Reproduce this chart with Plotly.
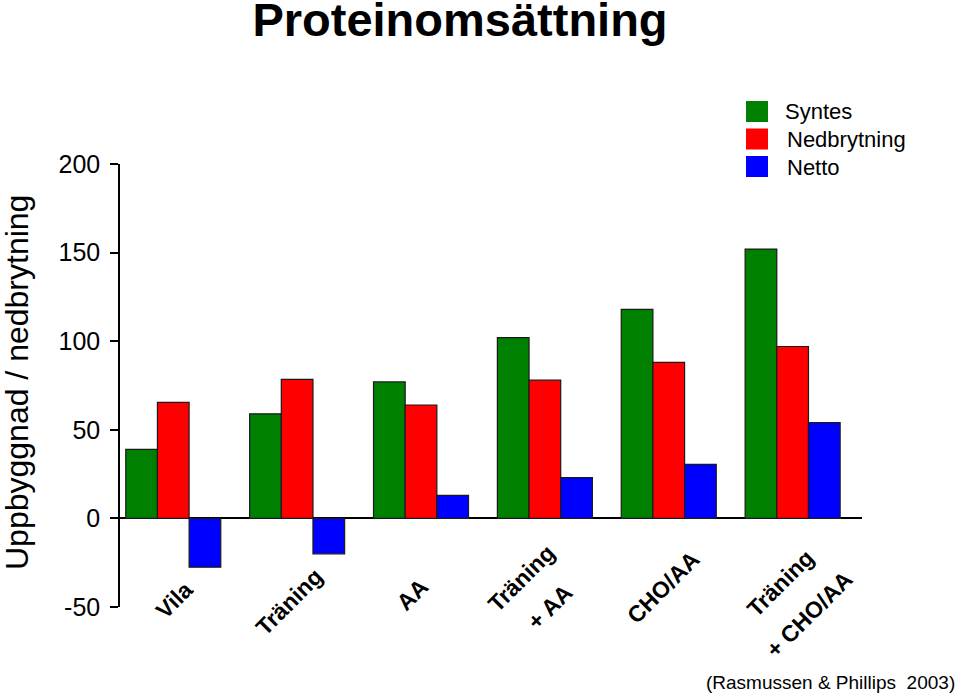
import plotly.graph_objects as go

# ---- data ----
categories = ["Vila", "Träning", "AA", "Träning + AA", "CHO/AA", "Träning + CHO/AA"]
label_lines = [["Vila"], ["Träning"], ["AA"], ["Träning", "+ AA"], ["CHO/AA"], ["Träning", "+ CHO/AA"]]
series_names = ["Syntes", "Nedbrytning", "Netto"]
syntes = [39, 59, 77, 102, 118, 152]
nedbrytning = [65.5, 78.5, 64, 78, 88, 97]
netto = [-27.5, -20, 13, 23, 30.5, 54]
y_ticks = [-50, 0, 50, 100, 150, 200]
y_tick_text = ["-50", "0", "50", "100", "150", "200"]
title_text = "Proteinomsättning"
y_title = "Uppbyggnad / nedbrytning"
source_text = "(Rasmussen & Phillips\u00a0 2003)"

# ---- style ----
colors = ["#008000", "#FF0000", "#0000FF"]
FONT = "Liberation Sans, Arial, Helvetica, sans-serif"
W, H = 960, 695
L, R, T, B = 120, 98, 164, 88
PW, PH = W - L - R, H - T - B


def px_x(px):
    return (px - L) / PW


def px_y(py):
    return (H - B - py) / PH


fig = go.Figure()
for name, vals, col in zip(series_names, [syntes, nedbrytning, netto], colors):
    fig.add_trace(go.Bar(
        x=categories, y=vals, name=name,
        marker=dict(color=col, line=dict(color="#1a1a1a", width=1.2)),
        showlegend=False,
    ))

annotations = []
# rotated category labels (pixel shifts per line)
label_shifts = [
    [(1, -11)],
    [(-8, -13)],
    [(-9, -6)],
    [(-23, 11), (5, -18)],
    [(-5, 2)],
    [(-12, 6), (17, -25)],
]
for cat, lines, shifts in zip(categories, label_lines, label_shifts):
    for text, (dx, dy) in zip(lines, shifts):
        annotations.append(dict(
            x=cat, y=-40, xref="x", yref="y", text=text, showarrow=False,
            textangle=-45, xanchor="center", yanchor="middle",
            xshift=dx, yshift=dy,
            font=dict(family=FONT, size=23, color="black", weight="bold"),
        ))

# y-axis title
annotations.append(dict(
    x=px_x(17), y=px_y(383), xref="paper", yref="paper", text=y_title,
    showarrow=False, textangle=-90, xanchor="center", yanchor="middle",
    font=dict(family=FONT, size=32, color="black"),
))

# source
annotations.append(dict(
    x=px_x(830), y=px_y(682), xref="paper", yref="paper", text=source_text,
    showarrow=False, xanchor="center", yanchor="middle",
    font=dict(family=FONT, size=19, color="black"),
))

# manual legend
shapes = []
for i, (name, col) in enumerate(zip(series_names, colors)):
    top = 101 + 27.5 * i
    shapes.append(dict(
        type="rect", xref="paper", yref="paper",
        x0=px_x(746), x1=px_x(768), y0=px_y(top + 21), y1=px_y(top),
        fillcolor=col, line=dict(width=0),
    ))
    annotations.append(dict(
        x=px_x(783 if i == 0 else 785), y=px_y(top + 11), xref="paper", yref="paper",
        text=name, showarrow=False, xanchor="left", yanchor="middle",
        font=dict(family=FONT, size=22, color="black"),
    ))

fig.update_layout(
    width=W, height=H,
    margin=dict(l=L, r=R, t=T, b=B, pad=0),
    paper_bgcolor="white", plot_bgcolor="white",
    barmode="group", bargap=0.233, bargroupgap=0,
    title=dict(
        text=title_text, x=460 / W, y=1 - 20 / H, xref="container", yref="container",
        xanchor="center", yanchor="middle",
        font=dict(family=FONT, size=47, color="black", weight="bold"),
    ),
    xaxis=dict(
        type="category", range=[-0.43, 5.56], visible=False,
        showgrid=False, zeroline=False,
    ),
    yaxis=dict(
        range=[-50, 200], tickvals=y_ticks, ticktext=y_tick_text,
        ticks="outside", ticklen=8,
        tickwidth=1.5, tickcolor="black", showline=True, linecolor="black",
        linewidth=1.5, showgrid=False, zeroline=True, zerolinecolor="black",
        zerolinewidth=1.5, ticklabelstandoff=5,
        tickfont=dict(family=FONT, size=25, color="black"),
    ),
    yaxis2=dict(
        overlaying="y", side="left", anchor="x", range=[-50, 200],
        tickvals=y_ticks, ticks="inside", ticklen=8, tickwidth=1.5,
        tickcolor="black", showticklabels=False, showgrid=False,
        zeroline=False, showline=False,
    ),
    annotations=annotations,
    shapes=shapes,
)

fig.write_html(
    "out.html",
    config={"displayModeBar": False},
    post_script="document.body.style.margin='0';document.body.style.padding='0';",
)
